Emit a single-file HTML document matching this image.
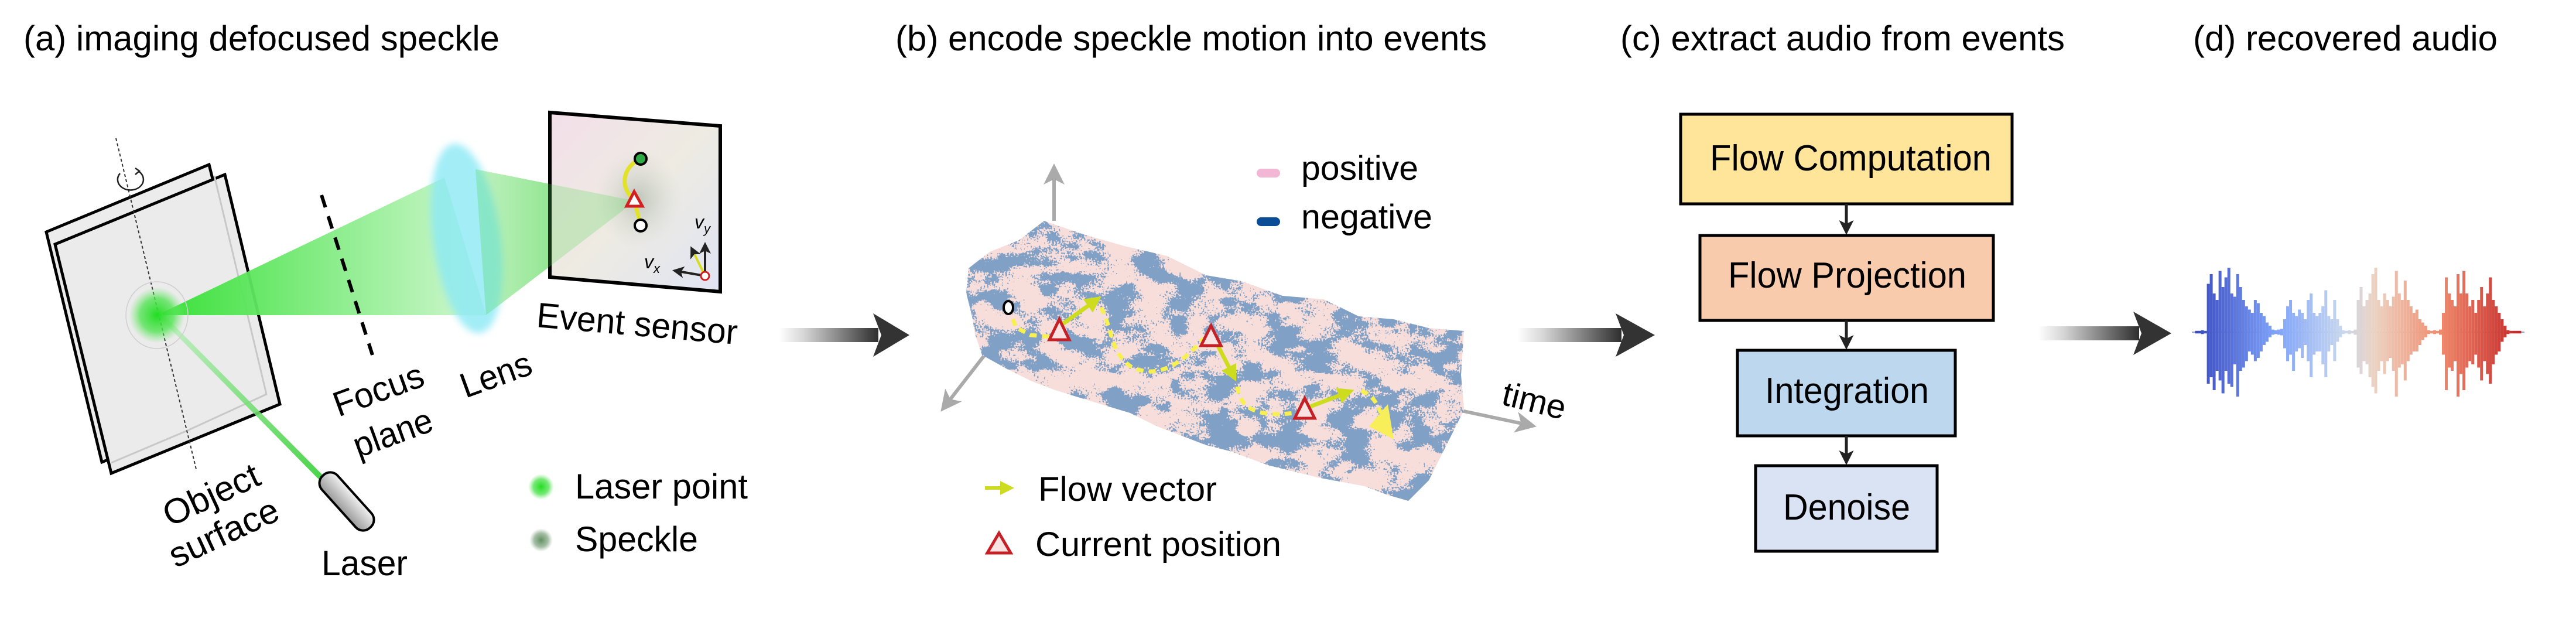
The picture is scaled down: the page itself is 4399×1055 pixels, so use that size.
<!DOCTYPE html>
<html><head><meta charset="utf-8"><style>
html,body{margin:0;padding:0;background:#fff;}
svg{display:block;}
text{font-family:"Liberation Sans",Arial,sans-serif;fill:#000;}
</style></head><body>
<svg id="fig" width="4399" height="1055" viewBox="0 0 4399 1055" xmlns="http://www.w3.org/2000/svg">
<defs>
  <linearGradient id="garrow" x1="0" x2="1" y1="0" y2="0">
    <stop offset="0" stop-color="#fff"/><stop offset="0.25" stop-color="#d6d6d6"/><stop offset="1" stop-color="#2e2e2e"/>
  </linearGradient>
  <linearGradient id="beam1" x1="268" y1="0" x2="800" y2="0" gradientUnits="userSpaceOnUse">
    <stop offset="0" stop-color="#2fe02f"/><stop offset="1" stop-color="#c8f5c8"/>
  </linearGradient>
  <linearGradient id="beam2" x1="800" y1="0" x2="1085" y2="0" gradientUnits="userSpaceOnUse">
    <stop offset="0" stop-color="#eafbea"/><stop offset="1" stop-color="#58d858"/>
  </linearGradient>
  <linearGradient id="laserbeam" x1="268" y1="538" x2="545" y2="815" gradientUnits="userSpaceOnUse">
    <stop offset="0" stop-color="#c8f0c8"/><stop offset="1" stop-color="#38d038"/>
  </linearGradient>
  <linearGradient id="sensorfill" x1="0" y1="0" x2="1" y2="1">
    <stop offset="0" stop-color="#f3dfea"/><stop offset="0.5" stop-color="#eeebe2"/><stop offset="1" stop-color="#e0e4f3"/>
  </linearGradient>
  <linearGradient id="laserbody" x1="0" y1="0" x2="0" y2="1">
    <stop offset="0" stop-color="#f2f2f2"/><stop offset="1" stop-color="#9a9a9a"/>
  </linearGradient>
  <radialGradient id="spot">
    <stop offset="0" stop-color="#22dd22"/><stop offset="0.6" stop-color="#55e455" stop-opacity="0.8"/><stop offset="1" stop-color="#7ee87e" stop-opacity="0"/>
  </radialGradient>
  <radialGradient id="speck">
    <stop offset="0" stop-color="#5f8f5f"/><stop offset="0.6" stop-color="#7fa37f" stop-opacity="0.7"/><stop offset="1" stop-color="#9fb59f" stop-opacity="0"/>
  </radialGradient>
  <radialGradient id="speckbig">
    <stop offset="0" stop-color="#9aa89a" stop-opacity="0.55"/><stop offset="1" stop-color="#c8cfc8" stop-opacity="0"/>
  </radialGradient>
  <filter id="blur6"><feGaussianBlur stdDeviation="6"/></filter>
  <filter id="mottle" x="0" y="0" width="1" height="1">
    <feTurbulence type="fractalNoise" baseFrequency="0.018 0.03" numOctaves="4" seed="7" result="n1"/>
    <feTurbulence type="fractalNoise" baseFrequency="0.35" numOctaves="1" seed="3" result="n2"/>
    <feComposite in="n1" in2="n2" operator="arithmetic" k1="0" k2="1" k3="0.45" k4="-0.22" result="n"/>
    <feColorMatrix in="n" type="matrix" values="0 0 0 0 0.22  0 0 0 0 0.35  0 0 0 0 0.56  25 0 0 0 -7.1"/>
  </filter>
  <clipPath id="cloudclip">
    <path d="M1654,458 L1690,430 L1740,410 L1783,377 L1850,400 L1920,420 L1993,437 L2060,470 L2120,480 L2190,505 L2261,511 L2320,540 L2380,545 L2440,560 L2500,565 L2495,640 L2500,700 L2470,760 L2440,820 L2405,855 L2370,845 L2330,830 L2250,815 L2165,794 L2100,770 L2060,760 L1974,727 L1930,705 L1880,690 L1802,666 L1760,650 L1720,630 L1677,606 L1665,570 L1660,540 L1650,500 Z"/>
  </clipPath>
  <marker id="gtip" markerWidth="6" markerHeight="6" refX="5" refY="3" orient="auto" markerUnits="strokeWidth"><path d="M0,0 L6,3 L0,6 L1.5,3 Z" fill="#aaa"/></marker>
  <marker id="ytip" markerWidth="4" markerHeight="4" refX="3" refY="2" orient="auto" markerUnits="strokeWidth"><path d="M0,0 L4,2 L0,4 Z" fill="#cddc1e"/></marker>
  <marker id="ktip" markerWidth="5" markerHeight="5" refX="4" refY="2.5" orient="auto" markerUnits="strokeWidth"><path d="M0,0 L5,2.5 L0,5 L1.2,2.5 Z" fill="#222"/></marker>
</defs>

<text x="40" y="86" font-size="60" textLength="813" lengthAdjust="spacingAndGlyphs">(a) imaging defocused speckle</text>
<text x="1529" y="86" font-size="60" textLength="1010" lengthAdjust="spacingAndGlyphs">(b) encode speckle motion into events</text>
<text x="2767" y="86" font-size="60" textLength="759" lengthAdjust="spacingAndGlyphs">(c) extract audio from events</text>
<text x="3745" y="86" font-size="60" textLength="520" lengthAdjust="spacingAndGlyphs">(d) recovered audio</text>

<g>
  <polygon points="79,396 357,281 455,673 174,789" fill="#ececec" stroke="#000" stroke-width="5"/>
  <polygon points="94,417 384,298 478,690 190,808" fill="#ebebeb" stroke="#000" stroke-width="5"/>
  <polyline points="366,300 455,673 320,735 190,790" fill="none" stroke="#c8c8c8" stroke-width="3"/>
  <line x1="198" y1="236" x2="335" y2="801" stroke="#333" stroke-width="2" stroke-dasharray="5,4"/>
  <path d="M205,296 A22,18 0 1 0 236,292" fill="none" stroke="#222" stroke-width="2.5"/>
  <path d="M231,287 L238,292 L231,298" fill="none" stroke="#222" stroke-width="2.5"/>
  <polygon points="268,538 759,303 830,538" fill="url(#beam1)" opacity="0.95"/>
  <polygon points="812,289 1085,343 830,538" fill="url(#beam2)" opacity="0.9"/>
  <ellipse cx="797" cy="407" rx="58" ry="163" transform="rotate(-8 797 407)" fill="#8be9f5" opacity="0.8" filter="url(#blur6)"/>
  <line x1="549" y1="333" x2="636" y2="606" stroke="#000" stroke-width="6" stroke-dasharray="22,16"/>
  <polygon points="268,538 276,534 552,812 544,818" fill="url(#laserbeam)" opacity="0.9"/>
  <ellipse cx="268" cy="538" rx="53" ry="57" fill="none" stroke="#cfcfcf" stroke-width="1.5"/>
  <circle cx="268" cy="538" r="48" fill="url(#spot)"/>
  <g transform="rotate(48 592 856)">
    <rect x="532" y="838" width="120" height="36" rx="17" fill="url(#laserbody)" stroke="#000" stroke-width="4"/>
  </g>
  <polygon points="939,192 1230,215 1230,498 939,473" fill="url(#sensorfill)" stroke="#000" stroke-width="6"/>
  <ellipse cx="1090" cy="340" rx="75" ry="85" fill="url(#speckbig)"/>
  <polygon points="812,289 1085,343 830,538" fill="#4fd84f" opacity="0.25"/>
  <path d="M1094,271 C1062,285 1058,322 1083,340 L1094,385" fill="none" stroke="#e2e22a" stroke-width="7"/>
  <circle cx="1094" cy="271" r="10" fill="#2eaa44" stroke="#000" stroke-width="4"/>
  <circle cx="1094" cy="385" r="10" fill="#fff" stroke="#000" stroke-width="4"/>
  <polygon points="1083,327 1070,352 1097,352" fill="#fff" stroke="#d02020" stroke-width="5"/>
  <line x1="1204" y1="471" x2="1204" y2="417" stroke="#222" stroke-width="4" marker-end="url(#ktip)"/>
  <line x1="1204" y1="471" x2="1152" y2="462" stroke="#222" stroke-width="4" marker-end="url(#ktip)"/>
  <line x1="1204" y1="471" x2="1181" y2="424" stroke="#d8dc20" stroke-width="4" marker-end="url(#ktip)"/>
  <circle cx="1204" cy="471" r="7" fill="#fff" stroke="#d02020" stroke-width="3"/>
  <text x="1186" y="390" font-size="32" font-style="italic" font-family="Liberation Serif,serif">v<tspan font-size="22" dy="8">y</tspan></text>
  <text x="1100" y="458" font-size="32" font-style="italic" font-family="Liberation Serif,serif">v<tspan font-size="22" dy="8">x</tspan></text>
  <text x="915" y="558" font-size="60" textLength="344" lengthAdjust="spacingAndGlyphs" transform="rotate(5 915 558)">Event sensor</text>
  <text x="578" y="712" font-size="60" textLength="160" lengthAdjust="spacingAndGlyphs" transform="rotate(-20 578 712)">Focus</text>
  <text x="612" y="782" font-size="60" textLength="140" lengthAdjust="spacingAndGlyphs" transform="rotate(-20 612 782)">plane</text>
  <text x="795" y="680" font-size="60" textLength="125" lengthAdjust="spacingAndGlyphs" transform="rotate(-20 795 680)">Lens</text>
  <text x="290" y="900" font-size="60" textLength="175" lengthAdjust="spacingAndGlyphs" transform="rotate(-25 290 900)">Object</text>
  <text x="300" y="970" font-size="60" textLength="200" lengthAdjust="spacingAndGlyphs" transform="rotate(-25 300 970)">surface</text>
  <text x="549" y="982" font-size="60" textLength="147" lengthAdjust="spacingAndGlyphs">Laser</text>
  <circle cx="924" cy="831" r="22" fill="url(#spot)"/>
  <text x="982" y="851" font-size="60" textLength="295" lengthAdjust="spacingAndGlyphs">Laser point</text>
  <circle cx="924" cy="922" r="20" fill="url(#speck)"/>
  <text x="982" y="941" font-size="60" textLength="210" lengthAdjust="spacingAndGlyphs">Speckle</text>
</g>

<g>
  <rect x="1330" y="560" width="170" height="24" fill="url(#garrow)"/>
  <polygon points="1491,535 1553,572 1491,609 1505,572" fill="#333"/>
</g>
<g>
  <rect x="2591" y="560" width="178" height="24" fill="url(#garrow)"/>
  <polygon points="2759,535 2826,572 2759,609 2773,572" fill="#333"/>
</g>
<g>
  <rect x="3480" y="557" width="173" height="24" fill="url(#garrow)"/>
  <polygon points="3643,532 3708,569 3643,606 3657,569" fill="#333"/>
</g>

<g>
  <line x1="1800" y1="377" x2="1800" y2="285" stroke="#aaa" stroke-width="6" marker-end="url(#gtip)"/>
  <line x1="1687" y1="599" x2="1610" y2="698" stroke="#aaa" stroke-width="6" marker-end="url(#gtip)"/>
  <line x1="2476" y1="697" x2="2618" y2="727" stroke="#aaa" stroke-width="6" marker-end="url(#gtip)"/>
  <g clip-path="url(#cloudclip)">
    <rect x="1640" y="360" width="880" height="510" fill="#f7dedb"/>
    <rect x="1640" y="360" width="880" height="510" filter="url(#mottle)"/>
  </g>
  <text x="2562" y="690" font-size="58" textLength="110" lengthAdjust="spacingAndGlyphs" transform="rotate(14 2562 690)">time</text>
  <polyline points="1722,525 1735,559 1760,572 1795,575" fill="none" stroke="#f8f050" stroke-width="7" stroke-dasharray="12,9"/>
  <path d="M1880,525 C1900,560 1895,600 1930,625 C1975,650 2020,620 2055,578" fill="none" stroke="#f8f050" stroke-width="7" stroke-dasharray="12,9"/>
  <path d="M2113,660 C2118,700 2150,712 2210,705" fill="none" stroke="#f8f050" stroke-width="7" stroke-dasharray="12,9"/>
  <path d="M2325,667 C2345,675 2352,690 2358,705" fill="none" stroke="#f8f050" stroke-width="7" stroke-dasharray="12,9"/>
  <polygon points="2370,690 2380,750 2338,728" fill="#f8ee5a"/>
  <line x1="1812" y1="555" x2="1875" y2="510" stroke="#cddc1e" stroke-width="7" marker-end="url(#ytip)"/>
  <line x1="2072" y1="575" x2="2108" y2="645" stroke="#cddc1e" stroke-width="7" marker-end="url(#ytip)"/>
  <line x1="2235" y1="695" x2="2306" y2="668" stroke="#cddc1e" stroke-width="7" marker-end="url(#ytip)"/>
  <ellipse cx="1722" cy="525" rx="8" ry="11" fill="#fff" stroke="#000" stroke-width="4"/>
  <polygon points="1809,545 1792,580 1826,580" fill="#fbe2e2" stroke="#c42026" stroke-width="5"/>
  <polygon points="2068,556 2051,590 2085,590" fill="#fbe2e2" stroke="#c42026" stroke-width="5"/>
  <polygon points="2228,680 2211,714 2245,714" fill="#fbe2e2" stroke="#c42026" stroke-width="5"/>
  <rect x="2146" y="288" width="40" height="15" rx="7.5" fill="#f3b7d6"/>
  <text x="2222" y="307" font-size="58" textLength="200" lengthAdjust="spacingAndGlyphs">positive</text>
  <rect x="2146" y="371" width="40" height="15" rx="7.5" fill="#0b4c96"/>
  <text x="2222" y="390" font-size="58" textLength="224" lengthAdjust="spacingAndGlyphs">negative</text>
  <line x1="1682" y1="833" x2="1726" y2="833" stroke="#cddc1e" stroke-width="6" marker-end="url(#ytip)"/>
  <text x="1773" y="855" font-size="58" textLength="305" lengthAdjust="spacingAndGlyphs">Flow vector</text>
  <polygon points="1706,910 1686,944 1726,944" fill="#fbe2e2" stroke="#c42026" stroke-width="5"/>
  <text x="1768" y="949" font-size="58" textLength="420" lengthAdjust="spacingAndGlyphs">Current position</text>
</g>

<g>
  <rect x="2870" y="195" width="566" height="153" fill="#fee599" stroke="#000" stroke-width="5"/>
  <text x="2920" y="291" font-size="62" textLength="481" lengthAdjust="spacingAndGlyphs">Flow Computation</text>
  <line x1="3153" y1="348" x2="3153" y2="396" stroke="#222" stroke-width="5" marker-end="url(#ktip)"/>
  <rect x="2903" y="402" width="501" height="145" fill="#f8cbad" stroke="#000" stroke-width="5"/>
  <text x="2951" y="491" font-size="62" textLength="407" lengthAdjust="spacingAndGlyphs">Flow Projection</text>
  <line x1="3153" y1="547" x2="3153" y2="592" stroke="#222" stroke-width="5" marker-end="url(#ktip)"/>
  <rect x="2967" y="598" width="372" height="146" fill="#bdd7ee" stroke="#000" stroke-width="5"/>
  <text x="3014" y="688" font-size="62" textLength="280" lengthAdjust="spacingAndGlyphs">Integration</text>
  <line x1="3153" y1="744" x2="3153" y2="789" stroke="#222" stroke-width="5" marker-end="url(#ktip)"/>
  <rect x="2998" y="795" width="310" height="146" fill="#dae3f3" stroke="#000" stroke-width="5"/>
  <text x="3045" y="887" font-size="62" textLength="217" lengthAdjust="spacingAndGlyphs">Denoise</text>
</g>

<g id="wave"></g>
</svg>
<script>
const waveTop = [0.02,0.02,0.03,0.02,
 0.75,0.9,0.6,0.5,0.95,0.7,0.85,1.0,0.6,0.55,0.9,0.7,0.5,0.4,0.35,0.3,0.5,0.45,0.3,0.25,0.15,0.1,
 0.04,0.03,0.04,0.05,
 0.2,0.4,0.5,0.3,0.25,0.35,0.3,0.2,0.5,0.6,0.3,0.25,0.3,0.4,0.65,0.25,0.2,0.5,0.2,0.1,
 0.03,0.02,0.03,0.02,0.04,
 0.5,0.7,0.4,0.5,0.6,0.9,1.0,0.5,0.4,0.6,0.5,0.4,0.55,0.95,0.6,0.5,0.8,0.5,0.4,0.3,0.35,0.2,0.15,0.1,
 0.03,0.02,0.03,0.02,0.04,
 0.3,0.85,0.6,0.5,0.4,0.9,0.6,0.95,0.6,0.4,0.5,0.3,0.5,0.7,0.4,0.6,0.85,0.5,0.4,0.3,0.2,0.1,
 0.03,0.02,0.02,0.02,0.02];
const waveBottom = [0.02,0.02,0.03,0.02,
 0.8,0.7,0.9,0.6,0.75,0.95,0.6,0.8,0.85,0.5,1.0,0.6,0.55,0.45,0.3,0.35,0.45,0.4,0.3,0.2,0.15,0.08,
 0.04,0.03,0.04,0.05,
 0.25,0.45,0.35,0.6,0.3,0.25,0.4,0.2,0.45,0.7,0.35,0.3,0.3,0.5,0.7,0.3,0.2,0.45,0.15,0.08,
 0.03,0.02,0.03,0.02,0.04,
 0.55,0.65,0.45,0.5,0.7,0.85,0.95,0.6,0.45,0.65,0.45,0.4,0.6,1.0,0.55,0.5,0.75,0.45,0.35,0.3,0.3,0.2,0.12,0.08,
 0.03,0.02,0.03,0.02,0.04,
 0.35,0.9,0.55,0.6,0.45,1.0,0.65,0.9,0.55,0.45,0.5,0.35,0.55,0.75,0.45,0.65,0.8,0.5,0.35,0.3,0.15,0.08,
 0.03,0.02,0.02,0.02,0.02];
(function(){
  const g = document.getElementById('wave');
  const NS = 'http://www.w3.org/2000/svg';
  const x0 = 3751, x1 = 4303, cy = 567, amp = 110;
  const n = waveTop.length;
  const xs = i => x0 + (x1 - x0) * i / (n - 1);
  const stops = [[0,[59,76,192]],[0.25,[128,164,250]],[0.45,[200,215,238]],[0.55,[236,211,195]],[0.75,[240,140,110]],[1,[196,40,40]]];
  function col(t){
    for (let k=0;k<stops.length-1;k++){
      const a=stops[k], b=stops[k+1];
      if (t<=b[0]){ const f=(t-a[0])/(b[0]-a[0]); const c=a[1].map((v,j)=>Math.round(v+(b[1][j]-v)*f)); return 'rgb('+c.join(',')+')'; }
    }
    return 'rgb(196,40,40)';
  }
  const base = document.createElementNS(NS,'line');
  base.setAttribute('x1', x0 - 8); base.setAttribute('x2', x1 + 8);
  base.setAttribute('y1', cy); base.setAttribute('y2', cy);
  base.setAttribute('stroke', '#9aa0c8'); base.setAttribute('stroke-width', '2');
  
  
  g.appendChild(base);
  for (let i = 0; i < n; i++) {
    const l = document.createElementNS(NS,'line');
    const x = xs(i);
    l.setAttribute('x1', x); l.setAttribute('x2', x);
    l.setAttribute('y1', cy - waveTop[i] * amp);
    l.setAttribute('y2', cy + waveBottom[i] * amp);
    l.setAttribute('stroke', col(i / (n - 1)));
    l.setAttribute('stroke-width', '5');
    
    
    g.appendChild(l);
  }
})();
</script>
</body></html>
